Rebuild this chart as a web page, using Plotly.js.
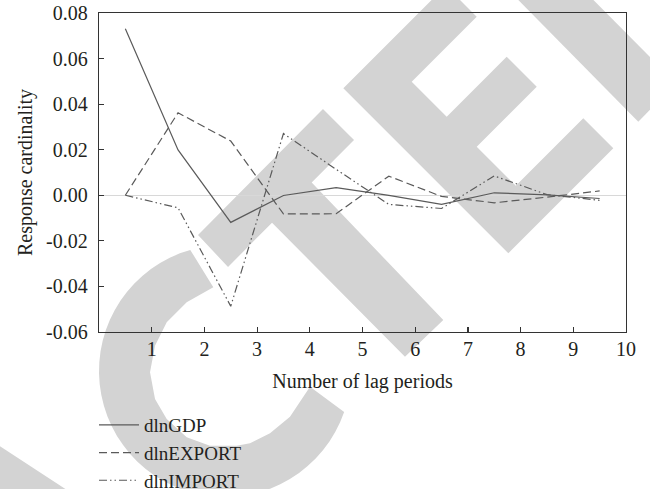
<!DOCTYPE html>
<html>
<head>
<meta charset="utf-8">
<script src="https://cdn.plot.ly/plotly-3.0.1.min.js"></script>
<style>html,body{margin:0;padding:0;background:#fff;}#chart{width:650px;height:489px;}</style>
</head>
<body>
<div id="chart"></div>
<script>
// ---- data ----
const lagPositions = [0.5, 1.5, 2.5, 3.5, 4.5, 5.5, 6.5, 7.5, 8.5, 9.5];
const dlnGDP    = [0.0731, 0.0199, -0.0119, -0.0001, 0.0034, 0.0000, -0.0040, 0.0011, 0.0002, -0.0014];
const dlnEXPORT = [0.0000, 0.0362, 0.0238, -0.0082, -0.0081, 0.0084, -0.0005, -0.0033, -0.0008, 0.0019];
const dlnIMPORT = [0.0000, -0.0055, -0.0487, 0.0271, 0.0114, -0.0040, -0.0058, 0.0085, 0.0003, -0.0022];
const seriesNames = ['dlnGDP', 'dlnEXPORT', 'dlnIMPORT'];
const xTickVals = [1, 2, 3, 4, 5, 6, 7, 8, 9, 10];
const xTickText = ['1', '2', '3', '4', '5', '6', '7', '8', '9', '10'];
const yTickVals = [-0.06, -0.04, -0.02, 0, 0.02, 0.04, 0.06, 0.08];
const yTickText = ['-0.06', '-0.04', '-0.02', '0.00', '0.02', '0.04', '0.06', '0.08'];

// ---- layout geometry ----
const W = 650, H = 489, ML = 99, MR = 24, MT = 13, MB = 157;
const PW = W - ML - MR, PH = H - MT - MB;
const px = x => (x - ML) / PW;
const py = y => 1 - (y - MT) / PH;
function pathFrom(pts) {
  return 'M' + pts.map(p => px(p[0]).toFixed(4) + ',' + py(p[1]).toFixed(4)).join('L') + 'Z';
}

// ---- decorative watermark (pixel outlines) ----
const wmT = [[198,235],[323,109],[354,140],[311.7,182.6],[443.3,320],[405,356.7],[272,222.7],[228,267]];
const wmE = [[343.3,88.3],[445.8,-14.2],[476.7,16.7],[411.7,81.7],[446.7,116.7],[506.7,56.7],[536.7,86.7],
             [476.7,146.7],[515.8,185.8],[583.3,118.3],[613.3,148.3],[508.3,253.3]];
const wmD = [[498.6,-20],[638.3,121.7],[676,83.2],[573.6,-20]];
const wmA = [[-5,443],[70,492],[-5,492]];
const wmCInner = [[310,386.7],[290,416.7],[270,433.3],[250,443.3],[236.7,445.7],[210,445.7],[186.7,437.3],
                  [166.7,419],[155,399],[150,372.3],[155,345.7],[166.7,322.3],[186.7,302.3],[213.3,287.3]];
const wmC = [];
for (let a = -106; a >= -341; a -= 5) {
  const r = a * Math.PI / 180;
  wmC.push([225 + 126 * Math.cos(r), 371 + 126 * Math.sin(r)]);
}
{ const r = -341 * Math.PI / 180; wmC.push([225 + 126 * Math.cos(r), 371 + 126 * Math.sin(r)]); }
wmCInner.forEach(p => wmC.push(p));

const wmColor = 'rgb(211,211,211)';
const shapes = [wmT, wmE, wmD, wmA, wmC].map(pts => ({
  type: 'path', xref: 'paper', yref: 'paper', layer: 'below',
  path: pathFrom(pts), fillcolor: wmColor, line: {width: 0}
}));

const lineColor = '#5a5a5a';
const dashes = ['solid', '8px,4px', '8px,3px,1.5px,3px,1.5px,3px'];
const data = [dlnGDP, dlnEXPORT, dlnIMPORT].map((ys, i) => ({
  type: 'scatter', mode: 'lines', x: lagPositions, y: ys, name: seriesNames[i],
  line: {color: lineColor, width: 1.2, dash: dashes[i]}
}));

const font = {family: '"Liberation Serif", "Times New Roman", serif', size: 20, color: '#231f20'};
const axisColor = '#333333';
const layout = {
  width: W, height: H,
  margin: {l: ML, r: MR, t: MT, b: MB, pad: 0, autoexpand: false},
  paper_bgcolor: '#ffffff', plot_bgcolor: 'rgba(0,0,0,0)',
  font: font,
  showlegend: true,
  legend: {x: px(94), xanchor: 'left', y: py(406), yanchor: 'top', bgcolor: 'rgba(0,0,0,0)',
           font: {family: font.family, size: 19, color: '#231f20'}, itemwidth: 40, tracegroupgap: 0},
  xaxis: {range: [0, 10], tickvals: xTickVals, ticktext: xTickText, ticks: 'inside', ticklen: 5, tickwidth: 1.2,
          tickcolor: axisColor, showline: true, linecolor: axisColor, linewidth: 1.3, mirror: true,
          showgrid: false, zeroline: false, ticklabelstandoff: -1, automargin: false,
          title: {text: 'Number of lag periods', font: font, standoff: 14}},
  yaxis: {range: [-0.06, 0.08], tickvals: yTickVals, ticktext: yTickText, ticks: 'inside', ticklen: 5, tickwidth: 1.2,
          tickcolor: axisColor, showline: true, linecolor: axisColor, linewidth: 1.3, mirror: true,
          showgrid: false, zeroline: true, zerolinecolor: '#d8d8d8', zerolinewidth: 1.2,
          ticklabelstandoff: 6, automargin: false,
          title: {text: 'Response cardinality', font: font, standoff: 8}},
  shapes: shapes
};
Plotly.newPlot('chart', data, layout, {displayModeBar: false, staticPlot: true});
</script>
</body>
</html>
